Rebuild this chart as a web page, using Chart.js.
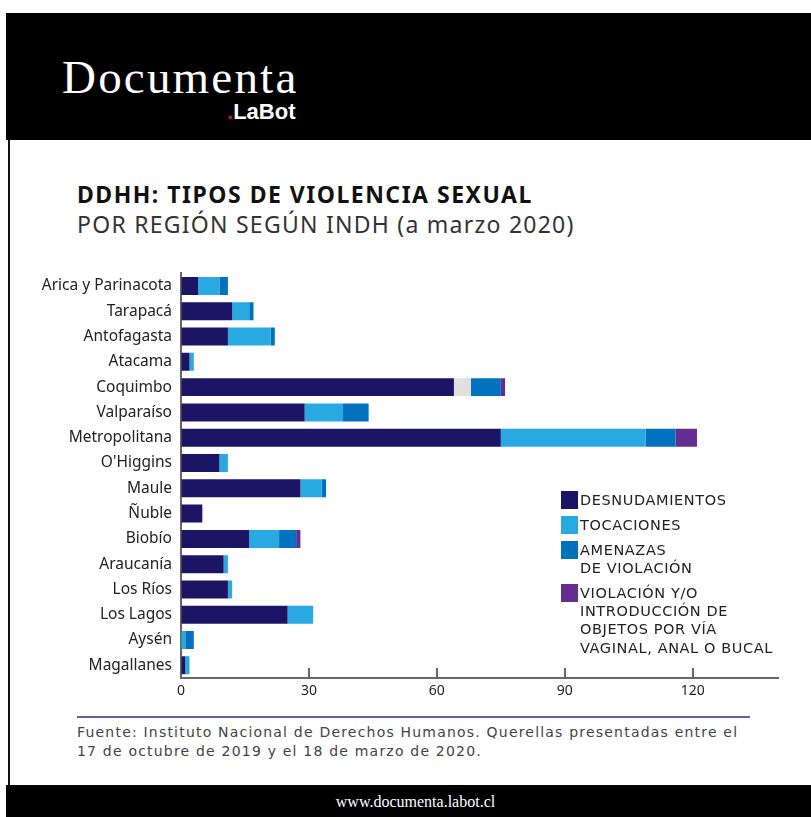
<!DOCTYPE html>
<html>
<head>
<meta charset="utf-8">
<script src="https://cdn.jsdelivr.net/npm/chart.js@4.4.1/dist/chart.umd.min.js"></script>
<style>
  body { margin: 0; background: #fff; width: 811px; height: 817px; overflow: hidden; position: relative; font-family: "Noto Sans", sans-serif; }
  .top { position: absolute; left: 6px; top: 13px; width: 805px; height: 127px; background: #000; }
  .brand { position: absolute; left: 62px; top: 50px; color: #fff; font-family: "Liberation Serif", serif; font-size: 47px; letter-spacing: 2.2px; }
  .labot { position: absolute; left: 227px; top: 99px; color: #fff; font-family: "Liberation Sans Narrow", "Liberation Sans", sans-serif; font-weight: bold; font-size: 22px; }
  .labot span { color: #d0161e; }
  .side { position: absolute; left: 8px; top: 140px; width: 2px; height: 645px; background: #111; }
  .bottom { position: absolute; left: 6px; top: 785px; width: 805px; height: 32px; background: #000; color: #fff; font-family: "Liberation Serif", serif; font-size: 16px; text-align: center; line-height: 34px; }
  .bottom span { position: relative; left: 7px; }
  .title { position: absolute; left: 77px; top: 178px; font-size: 23px; font-weight: bold; color: #111; letter-spacing: 1.5px; }
  .subtitle { position: absolute; left: 77px; top: 208px; font-size: 23px; color: #333; letter-spacing: 1.25px; }
  #wrap { position: absolute; left: 0; top: 255px; width: 811px; height: 455px; }
  .legend { position: absolute; left: 561px; top: 491px; font-family: "DejaVu Sans", sans-serif; font-size: 14.5px; color: #222; line-height: 18.3px; letter-spacing: 0.6px; }
  .legend div { position: relative; padding-left: 19px; margin-bottom: 6.5px; }
  .legend i { position: absolute; left: 0; top: 0; width: 17px; height: 18px; }
  .rule { position: absolute; left: 77px; top: 716px; width: 673px; height: 2px; background: #5d61a9; }
  .source { position: absolute; left: 77px; top: 723px; font-family: "DejaVu Sans", sans-serif; font-size: 14px; color: #444; line-height: 19px; letter-spacing: 1.2px; }
</style>
</head>
<body>
<div class="top"></div>
<div class="brand">Documenta</div>
<div class="labot"><span>.</span>LaBot</div>
<div class="side"></div>
<div class="title">DDHH: TIPOS DE VIOLENCIA SEXUAL</div>
<div class="subtitle">POR REGIÓN SEGÚN INDH (a marzo 2020)</div>
<div id="wrap"><canvas id="myChart"></canvas></div>
<div class="legend" id="legend"></div>
<div class="rule"></div>
<div class="source">Fuente: Instituto Nacional de Derechos Humanos. Querellas presentadas entre el<br>17 de octubre de 2019 y el 18 de marzo de 2020.</div>
<div class="bottom"><span>www.documenta.labot.cl</span></div>
<script>
const regions = ['Arica y Parinacota', 'Tarapacá', 'Antofagasta', 'Atacama', 'Coquimbo', 'Valparaíso',
  'Metropolitana', "O'Higgins", 'Maule', 'Ñuble', 'Biobío', 'Araucanía', 'Los Ríos', 'Los Lagos', 'Aysén', 'Magallanes'];

const desnudamientos = [4, 12, 11, 2, 64, 29, 75, 9, 28, 5, 16, 10, 11, 25, 0, 1];
const tocaciones = [5, 4, 10, 1, 4, 9, 34, 2, 5, 0, 7, 1, 1, 6, 1, 1];
const amenazas = [2, 1, 1, 0, 7, 6, 7, 0, 1, 0, 4, 0, 0, 0, 2, 0];
const violacion = [0, 0, 0, 0, 1, 0, 5, 0, 0, 0, 1, 0, 0, 0, 0, 0];

const xTicks = [0, 30, 60, 90, 120];

const seriesNames = ['DESNUDAMIENTOS', 'TOCACIONES', 'AMENAZAS<br>DE VIOLACIÓN',
  'VIOLACIÓN Y/O<br>INTRODUCCIÓN DE<br>OBJETOS POR VÍA<br>VAGINAL, ANAL O BUCAL'];
const colors = ['#1c1464', '#29a9e1', '#0071bc', '#662d91'];

// tocaciones in Coquimbo is grey in the original graphic
const tocColors = regions.map(r => r === 'Coquimbo' ? '#e0e0e0' : colors[1]);

const legend = document.getElementById('legend');
seriesNames.forEach((name, i) => {
  legend.innerHTML += '<div><i style="background:' + colors[i] + '"></i>' + name + '</div>';
});

// small upward tick marks on the x axis
const upTicks = {
  id: 'upTicks',
  afterDraw(chart) {
    const ctx = chart.ctx;
    const x = chart.scales.x;
    const y0 = chart.chartArea.bottom;
    ctx.save();
    ctx.strokeStyle = '#666';
    ctx.lineWidth = 2;
    xTicks.slice(1).forEach(v => {
      const px = Math.round(x.getPixelForValue(v));
      ctx.beginPath();
      ctx.moveTo(px, y0);
      ctx.lineTo(px, y0 - 10);
      ctx.stroke();
    });
    ctx.restore();
  }
};

const common = { barPercentage: 0.9, categoryPercentage: 0.79, borderWidth: 0 };

new Chart(document.getElementById('myChart'), {
  type: 'bar',
  data: {
    labels: regions,
    datasets: [
      { label: 'Desnudamientos', data: desnudamientos, backgroundColor: colors[0], ...common },
      { label: 'Tocaciones', data: tocaciones, backgroundColor: tocColors, ...common },
      { label: 'Amenazas de violación', data: amenazas, backgroundColor: colors[2], ...common },
      { label: 'Violación y/o introducción de objetos por vía vaginal, anal o bucal', data: violacion, backgroundColor: colors[3], ...common }
    ]
  },
  options: {
    indexAxis: 'y',
    responsive: true,
    maintainAspectRatio: false,
    animation: false,
    layout: { padding: { top: 15, right: 33, left: 0, bottom: 0 } },
    plugins: { legend: { display: false }, tooltip: { enabled: false } },
    scales: {
      x: {
        stacked: true,
        min: 0,
        max: 140,
        afterBuildTicks: s => { s.ticks = xTicks.map(v => ({ value: v })); },
        afterFit: s => { s.height = 32; },
        grid: { drawOnChartArea: false, drawTicks: false },
        border: { color: '#666', width: 2 },
        ticks: { padding: 5, color: '#222', font: { family: 'Noto Sans', size: 14 } }
      },
      y: {
        stacked: true,
        afterFit: s => { s.width = 181; },
        grid: { drawOnChartArea: false, drawTicks: false },
        border: { color: '#666', width: 2 },
        ticks: { padding: 9, color: '#222', font: { family: 'Noto Sans', size: 15.5 } }
      }
    }
  },
  plugins: [upTicks]
});
</script>
</body>
</html>
